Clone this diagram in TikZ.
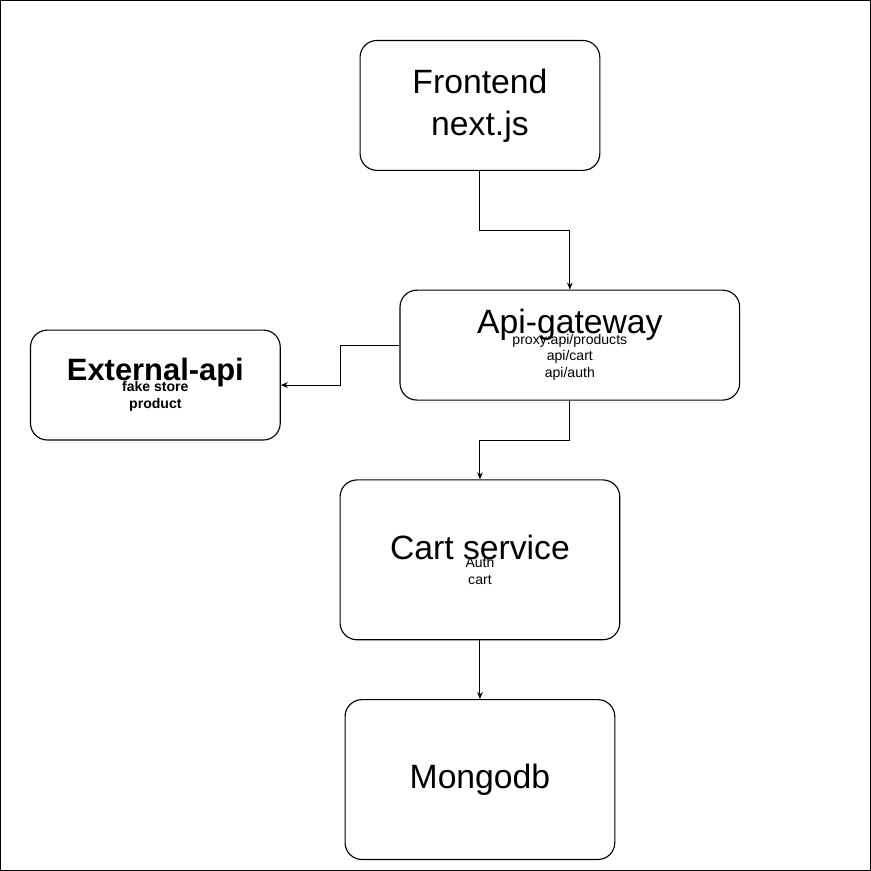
\documentclass[tikz,border=0pt]{standalone}
\usepackage{fontspec}
\setmainfont{Liberation Sans}
\usetikzlibrary{arrows.meta, positioning}

\newcommand{\bigtxt}{\fontsize{24}{30}\selectfont}
\newcommand{\smltxt}{\fontsize{10}{13}\selectfont}

\begin{document}
\begin{tikzpicture}[x=0.025cm, y=-0.025cm, ->, >={Stealth[length=5pt,width=4pt]}, line width=0.7pt]
    \tikzstyle{box}=[rectangle, rounded corners=12pt, draw=black, line width=0.8pt, align=center, inner sep=0pt]

    % frame
    \draw[-, line width=0.8pt] (0,0) rectangle (871,871);
    \useasboundingbox (0,0) rectangle (871,871);

    % boxes
    \node[box, minimum width=6cm, minimum height=3.25cm, font=\bigtxt] (front) at (480,105)
        {Frontend\\next.js};
    \node[box, minimum width=8.5cm, minimum height=2.75cm] (gate) at (570,345)
        {\bigtxt Api-gateway\\[-6pt]\smltxt proxy:api/products\\\smltxt api/cart\\\smltxt api/auth};
    \node[box, minimum width=6.25cm, minimum height=2.75cm, font=\bfseries] (ext) at (155,385)
        {\fontsize{22}{26}\selectfont External-api\\[-4pt]\smltxt fake store\\\smltxt product};
    \node[box, minimum width=7cm, minimum height=4cm] (cart) at (480,560)
        {\bigtxt Cart service\\[-6pt]\smltxt Auth\\\smltxt cart};
    \node[box, minimum width=6.75cm, minimum height=4cm, font=\bigtxt] (mongo) at (480,780)
        {Mongodb};

    % connectors
    \draw (front.south) |- (570,230) -- (gate.north);
    \draw (gate.west) -| (340,385) -- (ext.east);
    \draw (gate.south) |- (480,440) -- (cart.north);
    \draw (cart.south) -- (mongo.north);
\end{tikzpicture}
\end{document}
